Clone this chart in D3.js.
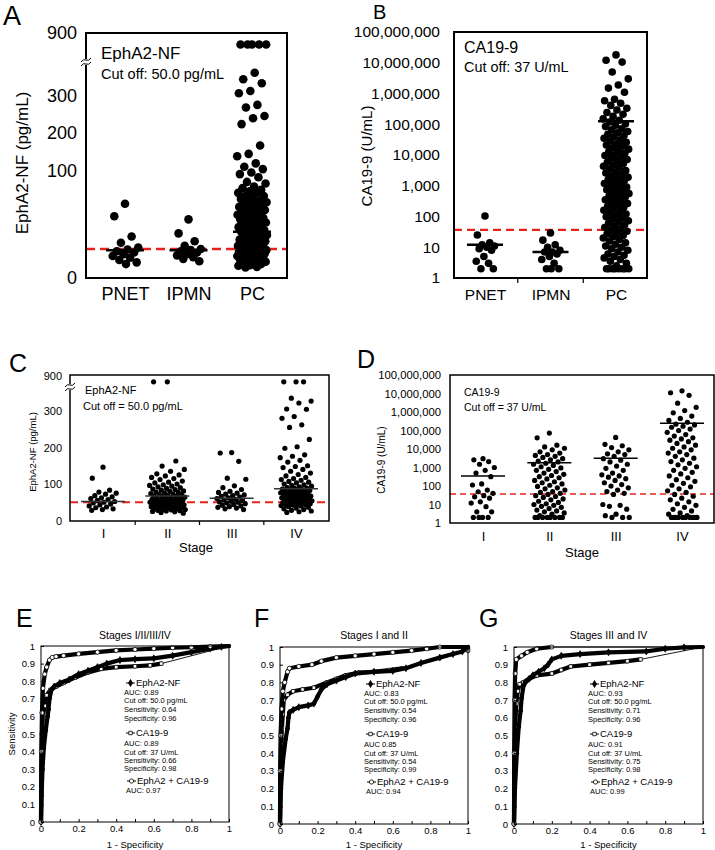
<!DOCTYPE html>
<html>
<head>
<meta charset="utf-8">
<script src="https://cdn.jsdelivr.net/npm/d3@7"></script>
<style>
  body { margin: 0; background: #fff; }
</style>
</head>
<body>
<svg id="fig" width="715" height="850"></svg>
<script>
// ---------- data ----------
const groupsAB = ["PNET", "IPMN", "PC"];
const stages = ["I", "II", "III", "IV"];

// A: EphA2-NF (pg/mL) by group
const ephPNET = [79, 71, 58, 54, 51, 49, 46, 44, 41, 38, 35, 31, 27, 24];
const ephIPMN = [69, 60, 55, 52, 50, 48, 46, 44, 41, 39, 36, 33, 29];
const ephPC = [790, 790, 790, 790, 790, 522, 459, 421, 348, 326, 276, 269, 246, 240, 224, 167, 145, 139, 120, 111,
  105, 99, 98, 96, 93, 92, 90, 89, 88, 87, 86, 86, 84, 84, 83, 82, 81, 81, 80, 79, 79, 78, 77, 77, 76, 75, 75, 74,
  74, 73, 72, 72, 71, 70, 70, 69, 69, 68, 67, 67, 66, 66, 65, 64, 64, 63, 63, 62, 61, 61, 60, 60, 59, 59, 58, 58,
  57, 56, 56, 55, 55, 54, 54, 53, 53, 52, 52, 51, 51, 50, 50, 49, 49, 48, 47, 47, 46, 45, 45, 44, 43, 42, 42, 41,
  40, 39, 38, 37, 36, 35, 33, 32, 31, 29, 28, 27, 25, 24, 22, 21, 19, 18];
const ephMedAB = [48, 48, 61];

// B: CA19-9 (U/mL) by group
const caPNET = [104, 25, 14, 12, 11, 10, 9, 8, 5, 3.5, 3, 2, 2];
const caIPMN = [29, 17, 12, 10, 8, 7, 7, 6, 5, 4, 3, 2, 2, 2];
const caPC = [18000000, 12000000, 10500000, 5000000, 3000000, 1900000, 1500000, 1100000, 650000, 580000,
  480000, 410000, 330000, 290000, 240000, 210000, 180000, 150000, 135000, 118000, 102000, 92000, 84000, 71000,
  66000, 58000, 53000, 47000, 42000, 39000, 35000, 31000, 28500, 26000, 23000, 21000, 19500, 17000, 15500, 14000,
  12800, 11500, 10200, 9600, 8700, 7900, 7100, 6400, 5800, 5300, 4700, 4300, 3900, 3500, 3100, 2850, 2600, 2350,
  2100, 1900, 1750, 1600, 1450, 1300, 1180, 1080, 990, 900, 820, 740, 680, 610, 560, 510, 465, 420, 385, 350, 315,
  290, 265, 240, 215, 195, 178, 160, 146, 132, 120, 108, 98, 89, 81, 73, 66, 60, 54, 49, 44, 40, 36, 33, 30, 27,
  24, 22, 20, 18, 16, 14, 12.5, 11, 10, 9, 8, 7, 6, 5.5, 5, 4.5, 4, 3.5, 3, 2.5, 2, 2, 2, 2, 2, 2, 2, 2];
const caMedAB = [12, 7, 126000];

// C: EphA2-NF by stage
const ephI = [146, 116, 83, 78, 75, 72, 68, 65, 62, 60, 57, 55, 52, 50, 48, 45, 43, 40, 37, 35, 32, 30, 28];
const ephII = [800, 800, 163, 149, 140, 135, 128, 125, 122, 118, 115, 112, 108, 105, 103, 100, 98, 96, 94, 92, 90,
  88, 86, 85, 83, 81, 80, 78, 77, 75, 74, 72, 71, 70, 68, 67, 66, 65, 64, 62, 61, 60, 59, 58, 57, 56, 55, 54, 53,
  52, 51, 50, 50, 49, 48, 47, 46, 45, 44, 43, 42, 41, 40, 39, 38, 37, 36, 35, 34, 33, 32, 31, 30, 29, 28, 27, 26,
  25, 24, 22, 20];
const ephIII = [186, 185, 162, 116, 113, 95, 90, 85, 80, 77, 75, 72, 70, 68, 66, 64, 62, 60, 58, 56, 55, 53, 51,
  50, 48, 46, 44, 42, 40, 38, 36, 34, 32, 30];
const ephIV = [800, 800, 800, 520, 470, 437, 334, 330, 285, 280, 262, 255, 222, 202, 198, 180, 176, 172, 165, 160,
  150, 148, 145, 140, 135, 130, 126, 122, 118, 115, 112, 110, 107, 105, 103, 100, 98, 96, 94, 92, 90, 89, 88, 86,
  85, 84, 82, 81, 80, 78, 77, 76, 75, 74, 73, 72, 71, 70, 68, 67, 66, 65, 64, 63, 62, 61, 60, 59, 58, 57, 56, 55,
  54, 53, 52, 51, 50, 49, 48, 47, 46, 45, 44, 43, 42, 41, 40, 38, 36, 34, 32, 30, 28, 26, 24, 22];
const ephMedStage = [52, 67, 61, 87];

// D: CA19-9 by stage
const caI = [3000, 2600, 2100, 1500, 1000, 700, 500, 320, 130, 113, 60, 49, 40, 30, 26, 22, 14, 12, 7.6, 4, 4, 2, 2, 2, 2];
const caII = [73000, 40000, 16000, 13000, 11000, 9000, 7000, 6000, 5000, 4500, 4000, 3500, 3000, 2600, 2200, 2000,
  1700, 1500, 1300, 1100, 950, 800, 700, 600, 500, 430, 370, 320, 280, 240, 200, 170, 150, 130, 110, 95, 80, 70, 60,
  50, 45, 40, 35, 30, 27, 24, 20, 18, 15, 13, 11, 10, 9, 8, 7, 6, 5, 4.5, 4, 3.5, 3, 2.5, 2, 2, 2, 2, 2, 2, 2, 2];
const caIII = [42000, 18000, 15000, 12000, 9000, 7000, 5500, 5000, 4000, 3000, 2500, 2000, 1500, 1200, 900, 700, 500,
  400, 350, 300, 250, 200, 150, 120, 100, 80, 60, 50, 40, 35, 10, 9, 8, 5.6, 3, 2.5, 2, 2, 2];
const caIV = [14000000, 11000000, 8000000, 3000000, 1800000, 1200000, 900000, 600000, 450000, 350000, 280000, 220000,
  200000, 170000, 150000, 120000, 100000, 80000, 60000, 50000, 40000, 35000, 30000, 25000, 20000, 16000, 13000,
  11000, 9000, 7000, 6000, 5000, 4000, 3200, 2600, 2100, 1700, 1400, 1100, 900, 700, 550, 450, 350, 280, 220, 180,
  140, 110, 90, 70, 55, 45, 35, 28, 22, 18, 14, 11, 9, 7, 5.5, 4.5, 3.5, 3, 2.5, 2, 2, 2, 2, 2, 2, 2, 2, 2, 2];
const caMedStage = [350, 1800, 3200, 250000];

const ephCut = 50;
const caCut = 37;
const ephTicks = [0, 100, 200, 300, 900];
const logTicks = [1, 10, 100, 1e3, 1e4, 1e5, 1e6, 1e7, 1e8];

// ROC curves [1 - specificity, sensitivity]
const rocEph = [
  [[0,0],[0.003,0.15],[0.008,0.3],[0.015,0.42],[0.025,0.52],[0.035,0.6],[0.04,0.64],[0.045,0.7],[0.055,0.75],[0.07,0.77],[0.1,0.79],[0.15,0.81],[0.2,0.84],[0.25,0.86],[0.3,0.88],[0.35,0.9],[0.42,0.92],[0.5,0.925],[0.6,0.93],[0.7,0.945],[0.8,0.965],[0.9,0.985],[0.96,0.995],[1,1]],
  [[0,0],[0.005,0.2],[0.015,0.35],[0.03,0.48],[0.04,0.54],[0.045,0.6],[0.05,0.63],[0.07,0.645],[0.1,0.66],[0.15,0.67],[0.18,0.68],[0.2,0.72],[0.22,0.76],[0.25,0.79],[0.3,0.81],[0.35,0.83],[0.4,0.85],[0.5,0.86],[0.6,0.865],[0.67,0.88],[0.75,0.91],[0.85,0.94],[0.92,0.96],[0.97,0.975],[1,1]],
  [[0,0],[0.005,0.2],[0.015,0.4],[0.025,0.55],[0.035,0.64],[0.04,0.71],[0.05,0.78],[0.06,0.8],[0.08,0.82],[0.1,0.84],[0.13,0.86],[0.16,0.88],[0.18,0.9],[0.2,0.93],[0.25,0.95],[0.35,0.96],[0.5,0.97],[0.7,0.975],[0.8,0.99],[0.9,0.998],[1,1]]
];
const rocCa = [
  [[0,0],[0.002,0.3],[0.005,0.5],[0.01,0.6],[0.02,0.66],[0.03,0.72],[0.05,0.75],[0.08,0.77],[0.12,0.79],[0.18,0.82],[0.25,0.85],[0.32,0.87],[0.4,0.88],[0.5,0.885],[0.58,0.89],[0.64,0.9],[1,1]],
  [[0,0],[0.002,0.3],[0.006,0.45],[0.01,0.54],[0.015,0.62],[0.02,0.7],[0.04,0.73],[0.07,0.75],[0.12,0.76],[0.18,0.77],[0.25,0.8],[0.3,0.82],[0.35,0.84],[0.42,0.855],[0.5,0.86],[0.58,0.87],[0.65,0.88],[1,0.98],[1,1]],
  [[0,0],[0.002,0.35],[0.006,0.55],[0.012,0.68],[0.02,0.75],[0.03,0.79],[0.05,0.8],[0.08,0.82],[0.12,0.84],[0.2,0.85],[0.25,0.87],[0.3,0.89],[0.4,0.9],[0.5,0.91],[0.6,0.92],[0.67,0.93],[1,1]]
];
const rocComb = [
  [[0,0],[0.002,0.4],[0.005,0.62],[0.01,0.76],[0.02,0.84],[0.03,0.88],[0.045,0.92],[0.06,0.935],[0.08,0.94],[0.12,0.945],[0.2,0.955],[0.3,0.965],[0.4,0.975],[0.5,0.98],[0.6,0.985],[0.7,0.99],[0.8,0.993],[0.9,0.997],[1,1]],
  [[0,0],[0.001,0.3],[0.003,0.5],[0.008,0.65],[0.015,0.75],[0.025,0.8],[0.04,0.86],[0.05,0.88],[0.1,0.89],[0.17,0.9],[0.22,0.92],[0.3,0.94],[0.4,0.95],[0.5,0.96],[0.6,0.97],[0.7,0.98],[0.78,0.99],[0.85,1],[1,1]],
  [[0,0],[0.001,0.4],[0.003,0.7],[0.006,0.85],[0.012,0.93],[0.04,0.95],[0.07,0.97],[0.12,0.99],[0.2,1],[1,1]]
];
const rocTitles = ["Stages I/II/III/IV", "Stages I and II", "Stages III and IV"];
const ephAUC = ["AUC: 0.89", "AUC: 0.83", "AUC: 0.93"];
const ephSens = ["0.64", "0.54", "0.71"];
const ephSpec = ["0.96", "0.96", "0.96"];
const caAUC = ["AUC: 0.89", "AUC 0.85", "AUC: 0.91"];
const caSens = ["0.66", "0.54", "0.75"];
const caSpec = ["0.98", "0.99", "0.98"];
const combAUC = ["AUC: 0.97", "AUC: 0.94", "AUC: 0.99"];
const rocYTicks = [0, 0.1, 0.2, 0.3, 0.4, 0.5, 0.6, 0.7, 0.8, 0.9, 1];
const rocXTicks = [0, 0.2, 0.4, 0.6, 0.8, 1];

// ---------- drawing ----------
const FONT = "'Liberation Sans', Arial, Helvetica, sans-serif";
const RED = "#e8211d";
const svg = d3.select("#fig").attr("font-family", FONT);
const jit = i => ((i * 0.618034 + 0.5) % 1) - 0.5;   // spread dots sideways

function txt(g, s, x, y, size, anchor) {
  return g.append("text").attr("x", x).attr("y", y).attr("font-size", size)
    .attr("text-anchor", anchor || "start").attr("fill", "#000").text(s);
}

function tidyAxis(sel, size) {
  sel.attr("font-family", FONT).attr("font-size", size);
  sel.select(".domain").remove();
  sel.selectAll("text").attr("fill", "#000");
}

function scatterPanel(o) {
  const g = svg.append("g");
  const x = d3.scalePoint().domain(o.cats).range(o.xr);
  const y = o.y;

  g.append("line")
    .attr("x1", o.L).attr("x2", o.R).attr("y1", y(o.cut)).attr("y2", y(o.cut))
    .attr("stroke", RED).attr("stroke-width", o.cutW).attr("stroke-dasharray", o.dash);

  o.series.forEach((vals, k) => {
    g.append("g").selectAll("circle").data(vals).join("circle")
      .attr("cx", (d, i) => x(o.cats[k]) + jit(i) * 2 * o.spread[k])
      .attr("cy", d => y(d))
      .attr("r", o.r)
      .attr("fill", "#000");
  });

  g.append("g").selectAll("line").data(o.medians).join("line")
    .attr("x1", (d, k) => x(o.cats[k]) - o.medW / 2)
    .attr("x2", (d, k) => x(o.cats[k]) + o.medW / 2)
    .attr("y1", d => y(d)).attr("y2", d => y(d))
    .attr("stroke", o.medColor).attr("stroke-width", o.medSW);

  g.append("rect")
    .attr("x", o.L).attr("y", o.T).attr("width", o.R - o.L).attr("height", o.B - o.T)
    .attr("fill", "none").attr("stroke", "#000").attr("stroke-width", o.boxW);

  const ya = g.append("g").attr("transform", `translate(${o.L},0)`)
    .call(d3.axisLeft(y).tickValues(o.ticks).tickFormat(o.fmt).tickSize(0).tickPadding(o.yPad));
  tidyAxis(ya, o.yFont);

  const xa = g.append("g").attr("transform", `translate(0,${o.B})`)
    .call(d3.axisBottom(x).tickSize(0).tickPadding(o.xPad));
  tidyAxis(xa, o.xFont);

  if (o.sepTick) {
    const seps = o.cats.slice(1).map((c, k) => (x(c) + x(o.cats[k])) / 2);
    g.append("g").selectAll("line").data(seps).join("line")
      .attr("x1", d => d).attr("x2", d => d).attr("y1", o.B).attr("y2", o.B + o.sepTick)
      .attr("stroke", "#000").attr("stroke-width", 1.2);
  }

  if (o.breakY) {
    g.append("rect").attr("x", o.L - 3).attr("y", o.breakY - 3).attr("width", 6).attr("height", 6).attr("fill", "#fff");
    [-2, 2].forEach(dy => g.append("path")
      .attr("d", `M${o.L - 5},${o.breakY + dy + 2} q2.5,-3.5 5,-2 t5,-2`)
      .attr("fill", "none").attr("stroke", "#000").attr("stroke-width", 1));
  }

  txt(g, o.letter, o.letterX, o.letterY, o.letterSize);
  g.append("text")
    .attr("transform", `translate(${o.titleX},${o.titleY}) rotate(-90)`)
    .attr("text-anchor", "middle").attr("dy", "0.35em").attr("font-size", o.titleSize)
    .text(o.title);
  o.notes.forEach(n => txt(g, n[0], n[1], n[2], n[3]));
  if (o.xTitle) txt(g, o.xTitle, o.xTitleX, o.xTitleY, o.xTitleSize, "middle");
}

// A
scatterPanel({
  L: 86, R: 287, T: 33, B: 278, xr: [125, 252], cats: groupsAB,
  y: d3.scaleLinear().domain([0, 50, 100, 200, 300, 900]).range([278, 249, 171, 133, 96, 33]),
  ticks: ephTicks, fmt: d3.format("d"), yPad: 9, yFont: 18, xPad: 9, xFont: 18,
  series: [ephPNET, ephIPMN, ephPC], spread: [14, 13, 15], r: 4.3,
  medians: ephMedAB, medW: 38, medSW: 2.5, medColor: "#000",
  cut: ephCut, cutW: 2.4, dash: "9,5", boxW: 2,
  breakY: 62, sepTick: 0,
  letter: "A", letterX: 3, letterY: 25, letterSize: 27,
  title: "EphA2-NF (pg/mL)", titleX: 22, titleY: 163, titleSize: 17,
  notes: [["EphA2-NF", 101, 59, 17], ["Cut off: 50.0 pg/mL", 101, 79, 14.5]]
});

// B
scatterPanel({
  L: 454, R: 647, T: 32, B: 278, xr: [485, 616], cats: groupsAB,
  y: d3.scaleLog().domain([1, 1e8]).range([278, 32]),
  ticks: logTicks, fmt: d3.format(","), yPad: 14, yFont: 15.5, xPad: 11, xFont: 15.5,
  series: [caPNET, caIPMN, caPC], spread: [10, 10, 13], r: 3.8,
  medians: caMedAB, medW: 36, medSW: 2.5, medColor: "#000",
  cut: caCut, cutW: 2.2, dash: "8,5", boxW: 2,
  breakY: 0, sepTick: 5,
  letter: "B", letterX: 373, letterY: 18.6, letterSize: 20,
  title: "CA19-9 (U/mL)", titleX: 367, titleY: 156, titleSize: 15,
  notes: [["CA19-9", 464, 53, 16], ["Cut off: 37 U/mL", 464, 72, 14.4]]
});

// C
scatterPanel({
  L: 70, R: 329, T: 375, B: 521, xr: [103, 296], cats: stages,
  y: d3.scaleLinear().domain([0, 300, 900]).range([520.5, 411, 376]),
  ticks: ephTicks, fmt: d3.format("d"), yPad: 8, yFont: 11, xPad: 8, xFont: 13,
  series: [ephI, ephII, ephIII, ephIV], spread: [14, 18, 15, 16], r: 2.6,
  medians: ephMedStage, medW: 44, medSW: 1.5, medColor: "#333",
  cut: ephCut, cutW: 2.2, dash: "8,5", boxW: 1.5,
  breakY: 387, sepTick: 4,
  letter: "C", letterX: 9, letterY: 372, letterSize: 25,
  title: "EphA2-NF (pg/mL)", titleX: 33, titleY: 452, titleSize: 9.5,
  notes: [["EphA2-NF", 85, 394, 11], ["Cut off = 50.0 pg/mL", 83, 410, 11]],
  xTitle: "Stage", xTitleX: 196, xTitleY: 552, xTitleSize: 13
});

// D
scatterPanel({
  L: 450, R: 714, T: 375, B: 523, xr: [483, 682], cats: stages,
  y: d3.scaleLog().domain([1, 1e8]).range([523, 375]),
  ticks: logTicks, fmt: d3.format(","), yPad: 9, yFont: 11.3, xPad: 9, xFont: 13,
  series: [caI, caII, caIII, caIV], spread: [12, 16, 14, 15], r: 2.6,
  medians: caMedStage, medW: 44, medSW: 1.5, medColor: "#000",
  cut: caCut, cutW: 1.6, dash: "6,4", boxW: 1.5,
  breakY: 0, sepTick: 0,
  letter: "D", letterX: 357, letterY: 368, letterSize: 25,
  title: "CA19-9 (U/mL)", titleX: 381, titleY: 460, titleSize: 10,
  notes: [["CA19-9", 464, 396, 10.5], ["Cut off = 37 U/mL", 464, 411, 10.5]],
  xTitle: "Stage", xTitleX: 582, xTitleY: 557, xTitleSize: 13
});

// ROC panels
const symDiamond = d3.symbol().type(d3.symbolDiamond).size(14)();
const symSquare = d3.symbol().type(d3.symbolSquare).size(12)();
const symCircle = d3.symbol().type(d3.symbolCircle).size(14)();

function drawCurve(g, pts, x, y, sym, fill) {
  for (let i = 0; i < pts.length - 1; i++) {
    const thin = pts[i + 1][0] - pts[i][0] > 0.2;
    g.append("line")
      .attr("x1", x(pts[i][0])).attr("y1", y(pts[i][1]))
      .attr("x2", x(pts[i + 1][0])).attr("y2", y(pts[i + 1][1]))
      .attr("stroke", "#000").attr("stroke-width", thin ? 0.9 : 4.2).attr("stroke-linecap", "round");
  }
  g.append("g").selectAll("path").data(pts.filter((p, i) => i < pts.length - 1)).join("path")
    .attr("d", sym).attr("transform", d => `translate(${x(d[0])},${y(d[1])})`)
    .attr("fill", fill).attr("stroke", "#000").attr("stroke-width", 0.7);
}

function legendRow(g, x0, yb, sym, fill, label) {
  g.append("line").attr("x1", x0 + 2).attr("x2", x0 + 11).attr("y1", yb - 3).attr("y2", yb - 3)
    .attr("stroke", "#000").attr("stroke-width", 1);
  g.append("path").attr("d", sym).attr("transform", `translate(${x0 + 6.5},${yb - 3})`)
    .attr("fill", fill).attr("stroke", "#000").attr("stroke-width", 0.8);
  txt(g, label, x0 + 12, yb, 9.5);
}

function rocPanel(o, k) {
  const g = svg.append("g");
  const x = d3.scaleLinear().domain([0, 1]).range([o.L, o.R]);
  const y = d3.scaleLinear().domain([0, 1]).range([o.B, o.T]);

  drawCurve(g, rocCa[k], x, y, symSquare, "#fff");
  drawCurve(g, rocEph[k], x, y, symDiamond, "#000");
  drawCurve(g, rocComb[k], x, y, symCircle, "#fff");

  g.append("rect").attr("x", o.L).attr("y", o.T).attr("width", o.R - o.L).attr("height", o.B - o.T)
    .attr("fill", "none").attr("stroke", "#000").attr("stroke-width", 1);

  const ya = g.append("g").attr("transform", `translate(${o.L},0)`)
    .call(d3.axisLeft(y).tickValues(rocYTicks).tickFormat(d3.format("")).tickSizeInner(-3).tickSizeOuter(0).tickPadding(6));
  tidyAxis(ya, 9.5);
  const xm = g.append("g").attr("transform", `translate(0,${o.B})`)
    .call(d3.axisBottom(x).tickValues(rocYTicks).tickFormat("").tickSizeInner(-3).tickSizeOuter(0));
  tidyAxis(xm, 9.5);
  const xa = g.append("g").attr("transform", `translate(0,${o.B})`)
    .call(d3.axisBottom(x).tickValues(rocXTicks).tickFormat(d3.format("")).tickSize(0).tickPadding(3));
  tidyAxis(xa, 9.5);

  txt(g, rocTitles[k], (o.L + o.R) / 2, 639, 10.5, "middle");
  txt(g, "1 - Specificity", (o.L + o.R) / 2, 848, 9.5, "middle");
  txt(g, o.letter, o.letterX, 627, 25);
  if (o.yTitle) {
    g.append("text").attr("transform", `translate(12,${(o.T + o.B) / 2}) rotate(-90)`)
      .attr("text-anchor", "middle").attr("dy", "0.35em").attr("font-size", 9.5).text("Sensitivity");
  }

  const x0 = o.legX, t = o.T;
  legendRow(g, x0, t + 40, symDiamond, "#000", "EphA2-NF");
  txt(g, ephAUC[k], x0, t + 49, 7.5);
  txt(g, "Cut off: 50.0 pg/mL", x0, t + 57, 7.5);
  txt(g, "Sensitivity: " + ephSens[k], x0, t + 66, 7.5);
  txt(g, "Specificity: " + ephSpec[k], x0, t + 75, 7.5);
  legendRow(g, x0, t + 90, symSquare, "#fff", "CA19-9");
  txt(g, caAUC[k], x0, t + 100, 7.5);
  txt(g, "Cut off: 37 U/mL", x0, t + 109, 7.5);
  txt(g, "Sensitivity: " + caSens[k], x0, t + 117, 7.5);
  txt(g, "Specificity: " + caSpec[k], x0, t + 125, 7.5);
  legendRow(g, x0 + 1, t + 138, symCircle, "#fff", "EphA2 + CA19-9");
  txt(g, combAUC[k], x0 + 2, t + 147, 7.5);
}

rocPanel({ L: 41, R: 229, T: 646, B: 822, legX: 124, letter: "E", letterX: 16, yTitle: true }, 0);
rocPanel({ L: 280, R: 468, T: 647, B: 824, legX: 364, letter: "F", letterX: 254 }, 1);
rocPanel({ L: 514, R: 703, T: 647, B: 824, legX: 588, letter: "G", letterX: 479 }, 2);
</script>
</body>
</html>
